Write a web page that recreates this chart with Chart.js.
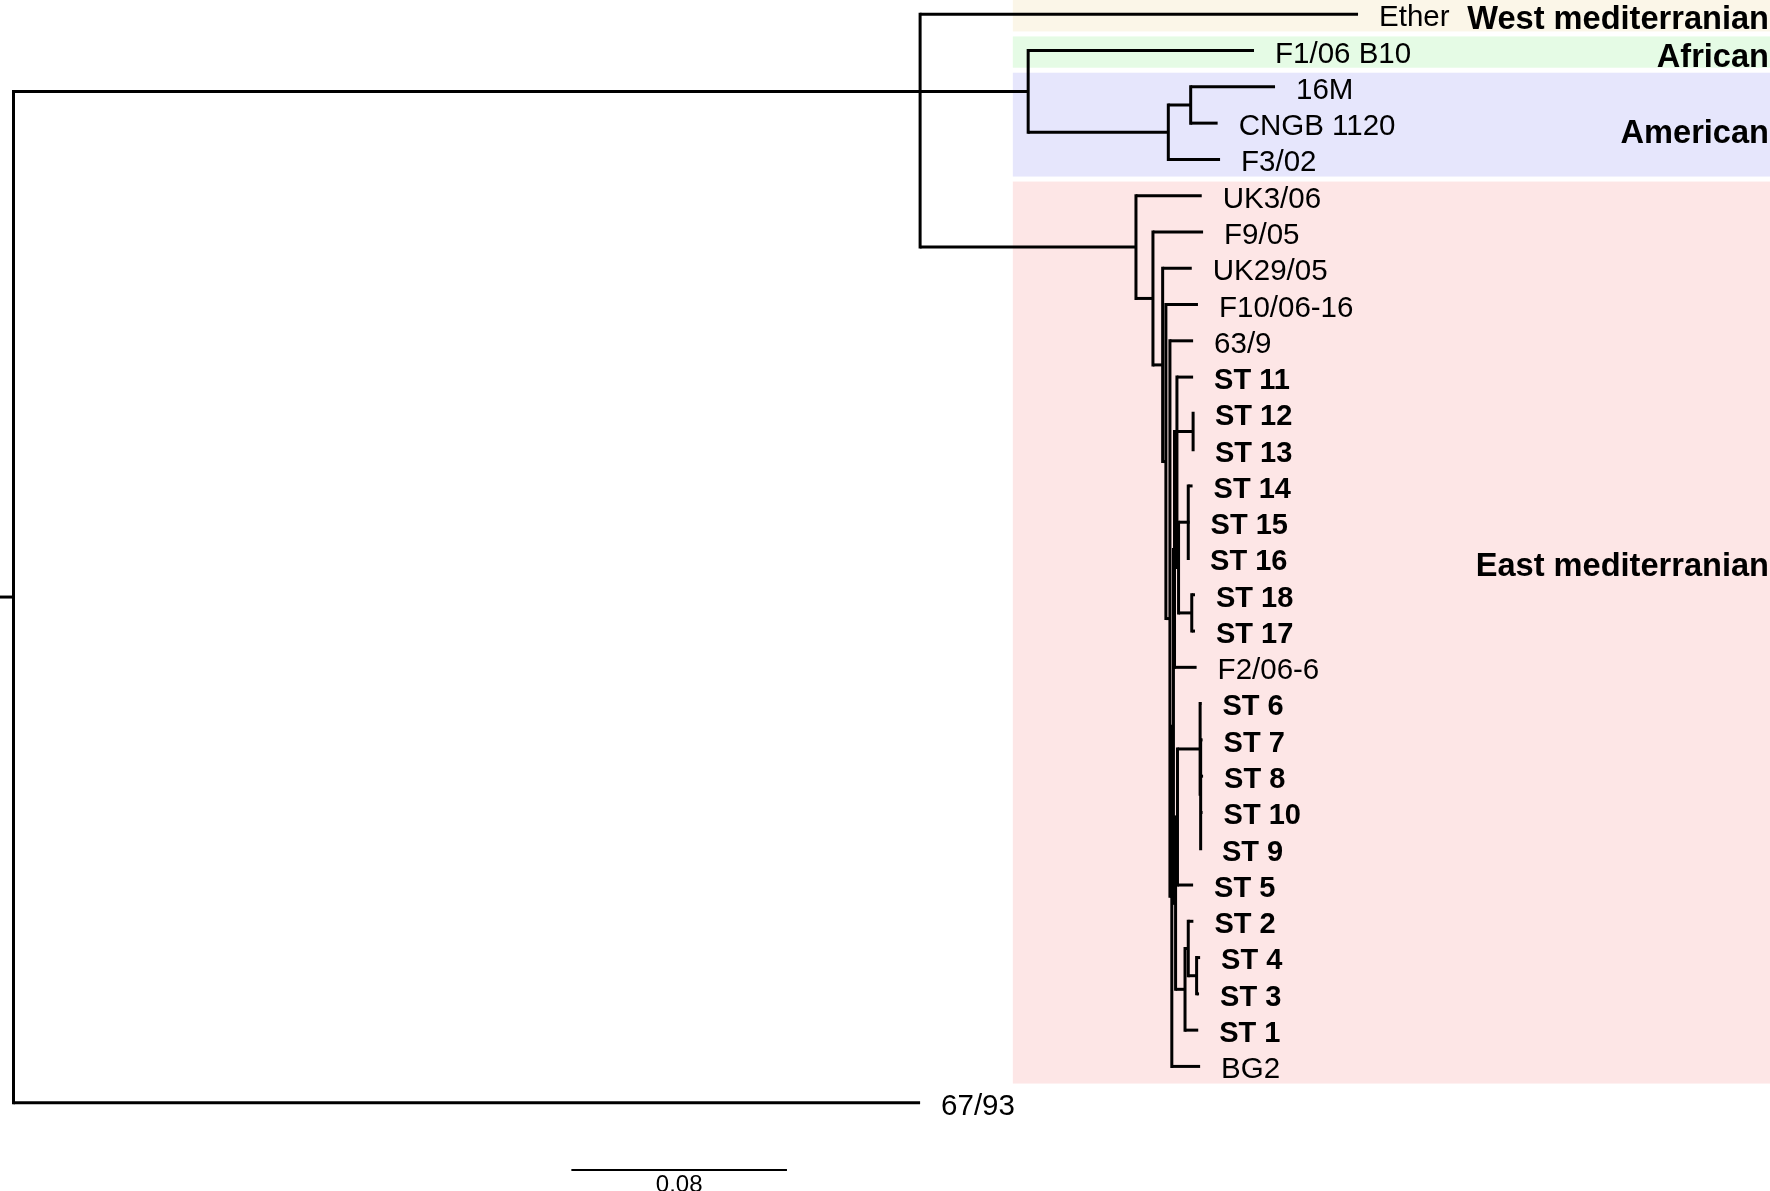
<!DOCTYPE html>
<html>
<head>
<meta charset="utf-8">
<title>Phylogenetic tree</title>
<script src="https://cdn.jsdelivr.net/npm/chart.js@4.4.1/dist/chart.umd.min.js"></script>
<style>
  html, body { margin: 0; padding: 0; background: #fff; }
  #wrap { width: 1770px; height: 1191px; }
</style>
</head>
<body>
<div id="wrap"><canvas id="tree" width="1770" height="1191"></canvas></div>
<script>
// --- TREE (pre-order; depth = distance from root, in substitutions/site) ---
const nodeIds = [
    "root", "n1", "ether", "n2", "f1", "n3", "n4", "m16", "cngb", "f3",
    "e", "uk3", "e2", "f9", "e3", "uk29", "e4", "f10", "e5", "s639",
    "e6", "g1", "g2", "j", "st11", "s1213", "st12", "st13", "h", "k1",
    "st14", "st15", "st16", "k2", "st18", "st17", "f2", "g3", "g3a", "p",
    "st6", "q", "st7", "st8", "st10", "st9", "st5", "r1", "r2", "st2",
    "r3", "st4", "st3", "st1", "bg2", "l6793"
];
const nodeParents = [
    null, "root", "n1", "n1", "n2", "n2", "n3", "n4", "n4", "n3",
    "n1", "e", "e", "e2", "e2", "e3", "e3", "e4", "e4", "e5",
    "e5", "e6", "g1", "g2", "j", "j", "s1213", "s1213", "j", "h",
    "k1", "k1", "k1", "h", "k2", "k2", "g2", "g1", "g3", "g3a",
    "p", "p", "q", "q", "q", "q", "g3a", "g3", "r1", "r2",
    "r2", "r3", "r3", "r1", "e6", "root"
];
const nodeDepths = [
    0, 0.3364, 0.4989, 0.3765, 0.4603, 0.4285, 0.4368, 0.4681, 0.4468, 0.4477,
    0.4165, 0.4409, 0.4228, 0.4414, 0.4264, 0.4372, 0.4276, 0.4395, 0.4291, 0.4377,
    0.4298, 0.4304, 0.4308, 0.4317, 0.4377, 0.4377, 0.4380, 0.4380, 0.4323, 0.4359,
    0.4375, 0.4364, 0.4362, 0.4372, 0.4384, 0.4384, 0.4390, 0.4312, 0.4319, 0.4403,
    0.4408, 0.4405, 0.4412, 0.4414, 0.4412, 0.4406, 0.4377, 0.4347, 0.4359, 0.4378,
    0.4390, 0.4403, 0.4399, 0.4396, 0.4403, 0.3364
];
const nodeLabels = [
    "", "", "Ether", "", "F1/06 B10", "", "", "16M", "CNGB 1120", "F3/02",
    "", "UK3/06", "", "F9/05", "", "UK29/05", "", "F10/06-16", "", "63/9",
    "", "", "", "", "ST 11", "", "ST 12", "ST 13", "", "",
    "ST 14", "ST 15", "ST 16", "", "ST 18", "ST 17", "F2/06-6", "", "", "",
    "ST 6", "", "ST 7", "ST 8", "ST 10", "ST 9", "ST 5", "", "", "ST 2",
    "", "ST 4", "ST 3", "ST 1", "BG2", "67/93"
];
const boldLabels = [
    "ST 1", "ST 2", "ST 3", "ST 4", "ST 5", "ST 6", "ST 7", "ST 8", "ST 9",
    "ST 10", "ST 11", "ST 12", "ST 13", "ST 14", "ST 15", "ST 16", "ST 17", "ST 18"
];

// --- CLADE BANDS ---
const groupNames = ["West mediterranian", "African", "American", "East mediterranian"];
const groupFirstLeaf = [0, 1, 2, 5];
const groupLastLeaf = [0, 1, 4, 29];
const groupLabelRows = [0.07, 1.13, 3.23, 15.16];
const groupColors = ["#fbf6e8", "#e5fbe5", "#e6e6fc", "#fde6e6"];
const bandStartDepth = 0.3708;

// --- SCALE BAR ---
const scaleBarStart = 0.207;
const scaleBarLength = 0.08;
const scaleBarRow = 31.855;
const scaleBarText = "0.08";

// axis windows (units / leaf rows) so the tree fills the canvas
const xMin = -0.00501, xMax = 0.65176;
const yMin = -0.394, yMax = 32.434;

const FONT = '"Liberation Sans", Arial, sans-serif';

// --- LAYOUT: leaf rows, inner node = median of children ---
const idx = {};
nodeIds.forEach((id, i) => idx[id] = i);
const children = nodeIds.map(() => []);
nodeParents.forEach((p, i) => { if (p) children[idx[p]].push(i); });
const rows = new Array(nodeIds.length);
let leafCount = 0;
function place(i) {
    if (children[i].length === 0) { rows[i] = leafCount++; return; }
    children[i].forEach(place);
    const ys = children[i].map(c => rows[c]);
    const n = ys.length;
    rows[i] = (ys[Math.floor((n - 1) / 2)] + ys[Math.ceil((n - 1) / 2)]) / 2;
}
place(0);

// --- BRANCH SEGMENTS ---
const datasets = [];
function seg(x1, y1, x2, y2, cap, width) {
    datasets.push({
        data: [{ x: x1, y: y1 }, { x: x2, y: y2 }],
        showLine: true,
        borderColor: "#000",
        borderWidth: width || 3,
        borderCapStyle: cap,
        pointRadius: 0,
        pointHoverRadius: 0,
        clip: false
    });
}
nodeIds.forEach((id, i) => {
    const p = nodeParents[i];
    if (p) seg(nodeDepths[idx[p]], rows[i], nodeDepths[i], rows[i], "butt");
    else seg(xMin, rows[i], nodeDepths[i], rows[i], "butt");
    const ch = children[i];
    if (ch.length) seg(nodeDepths[i], rows[ch[0]], nodeDepths[i], rows[ch[ch.length - 1]], "square");
});
seg(scaleBarStart, scaleBarRow, scaleBarStart + scaleBarLength, scaleBarRow, "butt", 2);

// --- PLUGINS ---
const bandsPlugin = {
    id: "bands",
    beforeDatasetsDraw(chart) {
        const { ctx, chartArea, scales: { x, y } } = chart;
        ctx.save();
        groupNames.forEach((g, k) => {
            const top = Math.max(chartArea.top, y.getPixelForValue(groupFirstLeaf[k] - 0.5) + (k ? 4 : 0));
            const bottom = y.getPixelForValue(groupLastLeaf[k] + 0.5) - 1;
            const left = x.getPixelForValue(bandStartDepth);
            ctx.fillStyle = groupColors[k];
            ctx.fillRect(left, top, chartArea.right - left, bottom - top);
        });
        ctx.restore();
    }
};

const labelsPlugin = {
    id: "labels",
    afterDatasetsDraw(chart) {
        const { ctx, chartArea, scales: { x, y } } = chart;
        ctx.save();
        ctx.fillStyle = "#000";
        ctx.textAlign = "left";
        ctx.textBaseline = "alphabetic";
        nodeLabels.forEach((lab, i) => {
            if (!lab) return;
            const bold = boldLabels.includes(lab);
            const size = bold ? 29 : 29.5;
            ctx.font = (bold ? "bold " : "") + size + "px " + FONT;
            const px = x.getPixelForValue(nodeDepths[i]) + 21;
            const py = y.getPixelForValue(rows[i]) + size * 0.716 / 2 + 1.5;
            ctx.fillText(lab, px, py);
        });

        ctx.textAlign = "right";
        ctx.font = "bold 32.6px " + FONT;
        groupNames.forEach((g, k) => {
            const py = y.getPixelForValue(groupLabelRows[k]) + 32.6 * 0.716 / 2;
            ctx.fillText(g, chartArea.right - 1, py);
        });

        ctx.textAlign = "center";
        ctx.font = "24px " + FONT;
        const cx = (x.getPixelForValue(scaleBarStart) + x.getPixelForValue(scaleBarStart + scaleBarLength)) / 2;
        ctx.fillText(scaleBarText, cx, y.getPixelForValue(scaleBarRow) + 22.5);
        ctx.restore();
    }
};

new Chart(document.getElementById("tree"), {
    type: "scatter",
    data: { datasets: datasets },
    options: {
        responsive: false,
        animation: false,
        devicePixelRatio: 1,
        events: [],
        layout: { padding: 0, autoPadding: false },
        plugins: { legend: { display: false }, tooltip: { enabled: false } },
        scales: {
            x: { type: "linear", min: xMin, max: xMax, display: false },
            y: { type: "linear", min: yMin, max: yMax, reverse: true, display: false }
        }
    },
    plugins: [bandsPlugin, labelsPlugin]
});
</script>
</body>
</html>
